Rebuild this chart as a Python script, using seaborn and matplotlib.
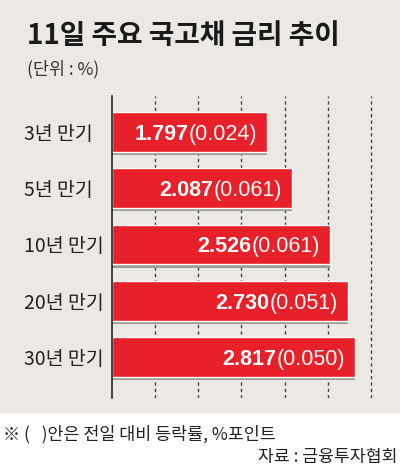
import matplotlib
matplotlib.use('Agg')
import matplotlib.pyplot as plt
import matplotlib.patheffects as pe
from matplotlib.patches import Rectangle
import seaborn as sns
import pandas as pd

# 데이터 (11일 국고채 금리, 괄호 안은 전일 대비 등락폭)
maturities = ['3년 만기', '5년 만기', '10년 만기', '20년 만기', '30년 만기']
rates = [1.797, 2.087, 2.526, 2.730, 2.817]
changes = [0.024, 0.061, 0.061, 0.051, 0.050]
grid_ticks = [0.5, 1.0, 1.5, 2.0, 2.5, 3.0]

df = pd.DataFrame({'만기': maturities, '금리': rates, '등락': changes})

sns.set_style('white')
plt.rcParams['font.family'] = ['Noto Sans CJK KR', 'DejaVu Sans']
NUM_FONT = ['Liberation Sans', 'DejaVu Sans']

BG = '#ece8e4'
RED = '#e8202a'

fig = plt.figure(figsize=(4, 4.66), dpi=100)
fig.patch.set_facecolor('white')
# 베이지 배경 (아래 주석 영역은 흰색)
bg = Rectangle((0, 53 / 466), 1, 1, transform=fig.transFigure,
               facecolor=BG, edgecolor='none', zorder=-10)
fig.add_artist(bg)

ax = fig.add_axes([112 / 400, 68 / 466, 288 / 400, 302 / 466])
ax.set_facecolor('none')

sns.barplot(data=df, x='금리', y='만기', orient='h', color=RED, saturation=1,
            width=0.71, ax=ax, zorder=3)

for bar in ax.patches:
    bar.set_path_effects([pe.SimplePatchShadow(offset=(0, -2.3), shadow_rgbFace='#9c9c9c',
                                               alpha=1), pe.Normal()])

ax.set_xlim(0, 3.337)
ax.set_ylim(4.73, -0.64)
ax.set_xticks(grid_ticks)
ax.set_xticklabels([])
ax.tick_params(axis='both', length=0)
ax.grid(axis='x', color='#444444', linestyle=(0, (2.4, 2.2)), linewidth=1.0)
ax.grid(axis='y', visible=False)
ax.set_axisbelow(True)
ax.set_xlabel('')
ax.set_ylabel('')
ax.set_yticklabels([])
for s in ['top', 'right', 'bottom']:
    ax.spines[s].set_visible(False)
ax.spines['left'].set_color('#222222')
ax.spines['left'].set_linewidth(1.2)
ax.spines['left'].set_zorder(4)

# 만기 라벨 (왼쪽 정렬)
for i, m in enumerate(maturities):
    ax.annotate(m, xy=(24 / 400, i), xycoords=(fig.transFigure, 'data'),
                ha='left', va='center_baseline', fontsize=14, color='#222222')

# 막대 안 수치
for i, (r, c) in enumerate(zip(rates, changes)):
    t = ax.annotate(f'({c:.3f})', xy=(r, i), xytext=(-7.2, 0), textcoords='offset points',
                    ha='right', va='center_baseline', fontsize=15.5, color='white',
                    family=NUM_FONT, zorder=5)
    ax.annotate(f'{r:.3f}', xy=(0, i), xycoords=(t, 'data'), ha='right',
                va='center_baseline', fontsize=15.5, color='white', fontweight='bold',
                family=NUM_FONT, zorder=5)

fig.text(27 / 400, 1 - 33 / 466, '11일 주요 국고채 금리 추이', fontsize=20, fontweight='bold',
         color='#1a1a1a', ha='left', va='center_baseline')
fig.text(27 / 400, 1 - 67 / 466, '(단위 : %)', fontsize=12.5, color='#333333',
         ha='left', va='center_baseline')
fig.text(3 / 400, 1 - 432 / 466, '※ (   )안은 전일 대비 등락률, %포인트', fontsize=12.5,
         color='#222222', ha='left', va='center_baseline')
fig.text(397 / 400, 1 - 455 / 466, '자료 : 금융투자협회', fontsize=12.4, color='#222222',
         ha='right', va='center_baseline')

fig.savefig('out.png', dpi=100, facecolor=fig.get_facecolor())
